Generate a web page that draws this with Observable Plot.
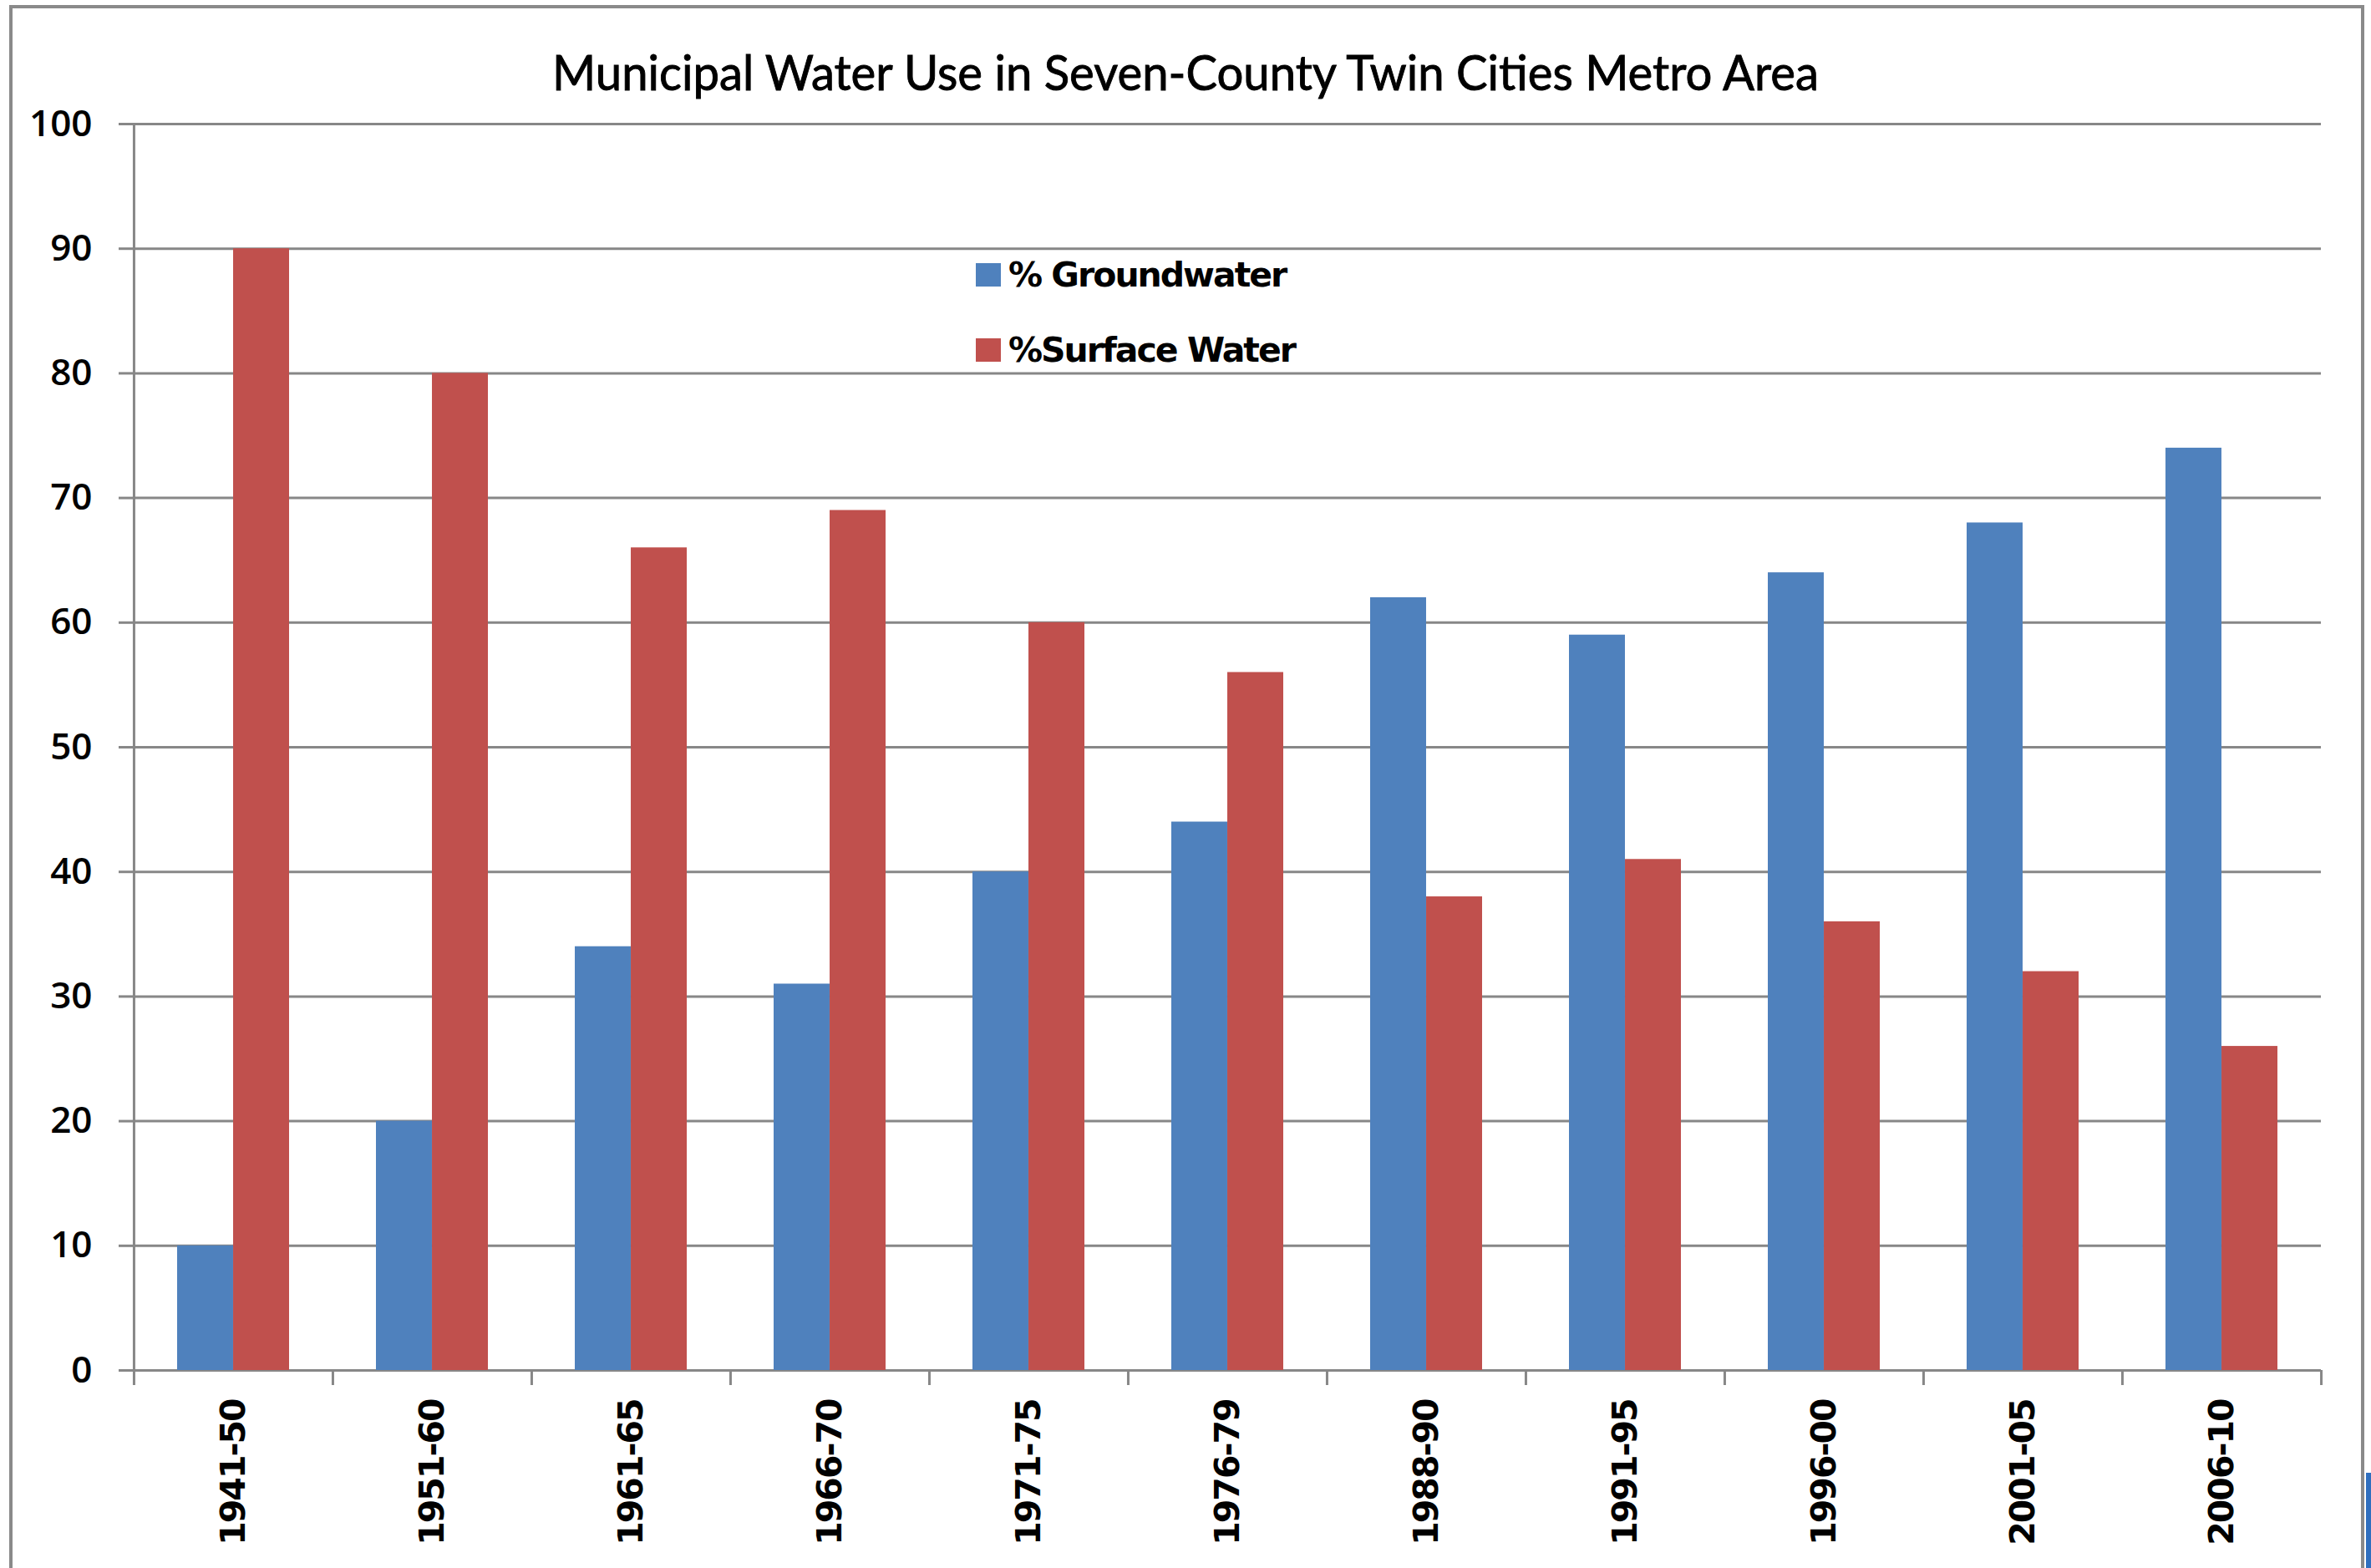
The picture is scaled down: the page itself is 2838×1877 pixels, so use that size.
<!DOCTYPE html>
<html>
<head>
<meta charset="utf-8">
<script src="https://cdn.jsdelivr.net/npm/d3@7"></script>
<script src="https://cdn.jsdelivr.net/npm/@observablehq/plot@0.6"></script>
<style>
  html, body { margin: 0; padding: 0; background: #fff; width: 2838px; height: 1877px; overflow: hidden; }
  #frame { position: absolute; left: 11px; top: 6px; width: 2819px; height: 1900px; border: 4px solid #8a8a8a; box-sizing: border-box; }
  #chart { position: absolute; left: 0; top: 0; }
  #title { position: absolute; left: 0; top: 57px; width: 2838px; text-align: center; font-family: Lato, "Open Sans", sans-serif; font-size: 58px; line-height: 58px; color: #000; white-space: nowrap; -webkit-text-stroke: 0.9px #000; transform: scaleX(0.97); transform-origin: 1420px 0; }
  .swatch { position: absolute; width: 30px; height: 28px; }
  .label { position: absolute; font-family: "DejaVu Sans", sans-serif; font-weight: bold; font-size: 41px; line-height: 41px; letter-spacing: -2px; color: #000; white-space: nowrap; }
  #edge { position: absolute; left: 2832px; top: 1763px; width: 6px; height: 114px; background: #2f6fbf; }
</style>
</head>
<body>
<div id="frame"></div>
<div id="chart"></div>
<div id="title">Municipal Water Use in Seven-County Twin Cities Metro Area</div>
<div class="swatch" style="left:1168px; top:315px; background:#4F81BD"></div>
<div class="label" style="left:1207px; top:309px">% Groundwater</div>
<div class="swatch" style="left:1168px; top:405px; background:#C0504D"></div>
<div class="label" style="left:1207px; top:399px">%Surface Water</div>
<div id="edge"></div>
<script>
// Share of municipal supply by source, seven-county metro area
const periods = ["1941-50", "1951-60", "1961-65", "1966-70", "1971-75", "1976-79",
                 "1988-90", "1991-95", "1996-00", "2001-05", "2006-10"];
const groundwater  = [10, 20, 34, 31, 40, 44, 62, 59, 64, 68, 74];
const surfaceWater = [90, 80, 66, 69, 60, 56, 38, 41, 36, 32, 26];
const yTicks = [0, 10, 20, 30, 40, 50, 60, 70, 80, 90, 100];

const rows = periods.map((period, i) => ({period, groundwater: groundwater[i], surface: surfaceWater[i]}));

const width = 2838, height = 1877;
const margin = {left: 159, right: 60, top: 148, bottom: 237};
const paddingInner = 0.437;
const step = (width - margin.left - margin.right) / periods.length;
const bandwidth = step * (1 - paddingInner);
const gridColor = "#878787";

const chart = Plot.plot({
  width, height,
  marginLeft: margin.left, marginRight: margin.right,
  marginTop: margin.top, marginBottom: margin.bottom,
  style: {background: "transparent", overflow: "visible"},
  x: {type: "band", domain: periods, paddingInner, paddingOuter: paddingInner / 2, axis: null},
  y: {domain: [0, 100], axis: null},
  marks: [
    // horizontal gridlines (the 0 line doubles as the category axis)
    Plot.ruleY(yTicks, {stroke: gridColor, strokeWidth: 3}),
    // clustered bars: groundwater on the left half of each band, surface water on the right
    Plot.barY(rows, {x: "period", y: "groundwater", fill: "#4F81BD", insetRight: bandwidth / 2}),
    Plot.barY(rows, {x: "period", y: "surface", fill: "#C0504D", insetLeft: bandwidth / 2}),
    // value axis line at the left edge of the first category
    Plot.ruleX(periods.slice(0, 1), {x: d => d, y1: 0, y2: 100, dx: -step / 2, stroke: gridColor, strokeWidth: 3}),
    // tick marks between categories
    Plot.ruleX(periods, {x: d => d, y1: 0, y2: 0, dx: -step / 2, insetBottom: -18, stroke: gridColor, strokeWidth: 3}),
    Plot.ruleX(periods.slice(-1), {x: d => d, y1: 0, y2: 0, dx: step / 2, insetBottom: -18, stroke: gridColor, strokeWidth: 3}),
    Plot.axisY({ticks: yTicks, tickSize: 17, tickPadding: 32, stroke: gridColor, strokeWidth: 3,
                fill: "#000", fontSize: 44, fontFamily: "Open Sans", fontWeight: 600, label: null}),
    Plot.axisX({tickSize: 0, tickPadding: 35, tickRotate: -90, fill: "#000",
                fontSize: 41, fontFamily: "DejaVu Sans", fontWeight: "bold", label: null})
  ]
});
// tighten the rotated category labels a little
d3.select(chart).selectAll('g[aria-label="x-axis tick label"] text').style("letter-spacing", "-2px");
document.getElementById("chart").appendChild(chart);
</script>
</body>
</html>
